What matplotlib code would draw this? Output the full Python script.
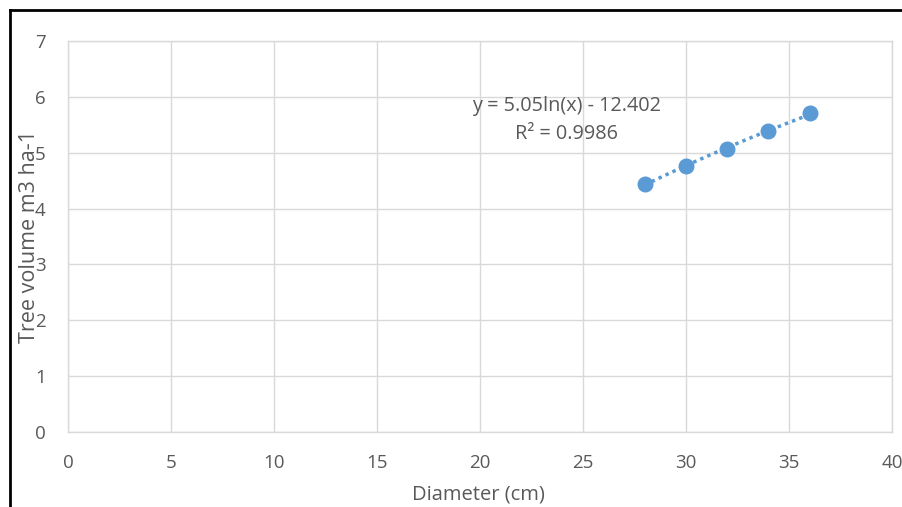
import numpy as np
import matplotlib.pyplot as plt
from matplotlib.lines import Line2D

# data
diameter = [28, 30, 32, 34, 36]
volume = [4.44, 4.77, 5.06, 5.38, 5.71]
x_ticks = [0, 5, 10, 15, 20, 25, 30, 35, 40]
y_ticks = [0, 1, 2, 3, 4, 5, 6, 7]
eq_text = 'y = 5.05ln(x) - 12.402'
r2_text = 'R² = 0.9986'

plt.rcParams['font.family'] = ['Open Sans', 'DejaVu Sans']
grey_txt = '#595959'
grid_c = '#d9d9d9'
blue = '#5b9bd5'

fig = plt.figure(figsize=(9.03, 5.07), dpi=100)
ax = fig.add_axes([68 / 903, 1 - 432 / 507, (892 - 68) / 903, (432 - 41) / 507])

# log trendline fitted to the points
a, b = np.polyfit(np.log(diameter), volume, 1)
xs = np.linspace(min(diameter), max(diameter), 50)
ax.plot(xs, a * np.log(xs) + b, ls=(0, (1, 1.2)), lw=2.5, color=blue, zorder=3)
ax.plot(diameter, volume, 'o', ms=10.5, color=blue, zorder=4)

ax.set_xlim(0, 40)
ax.set_ylim(0, 7)
ax.set_xticks(x_ticks)
ax.set_yticks(y_ticks)
ax.grid(True, color=grid_c, lw=1)
ax.set_axisbelow(True)
for s in ax.spines.values():
    s.set_color(grid_c)
    s.set_linewidth(1)
ax.tick_params(length=0, labelsize=13.5, labelcolor=grey_txt)
ax.tick_params(axis='x', pad=16)
ax.tick_params(axis='y', pad=16)

ax.set_xlabel('Diameter (cm)', fontsize=14.5, color=grey_txt)
ax.xaxis.set_label_coords(0.498, -0.133)
ax.set_ylabel('Tree volume m3 ha-1', fontsize=15.5, color=grey_txt)
ax.yaxis.set_label_coords(-0.034, 0.5)

ax.text(24.2, 5.84, eq_text, ha='center', va='center', fontsize=14.3, color=grey_txt)
ax.text(24.2, 5.33, r2_text, ha='center', va='center', fontsize=14.3, color=grey_txt)

# black frame cut off at right and bottom
fig.add_artist(Line2D([10 / 903, 1], [1 - 10 / 507, 1 - 10 / 507], color='black', lw=2))
fig.add_artist(Line2D([10 / 903, 10 / 903], [0, 1 - 10 / 507], color='black', lw=2))

fig.savefig('out.png', dpi=100)
